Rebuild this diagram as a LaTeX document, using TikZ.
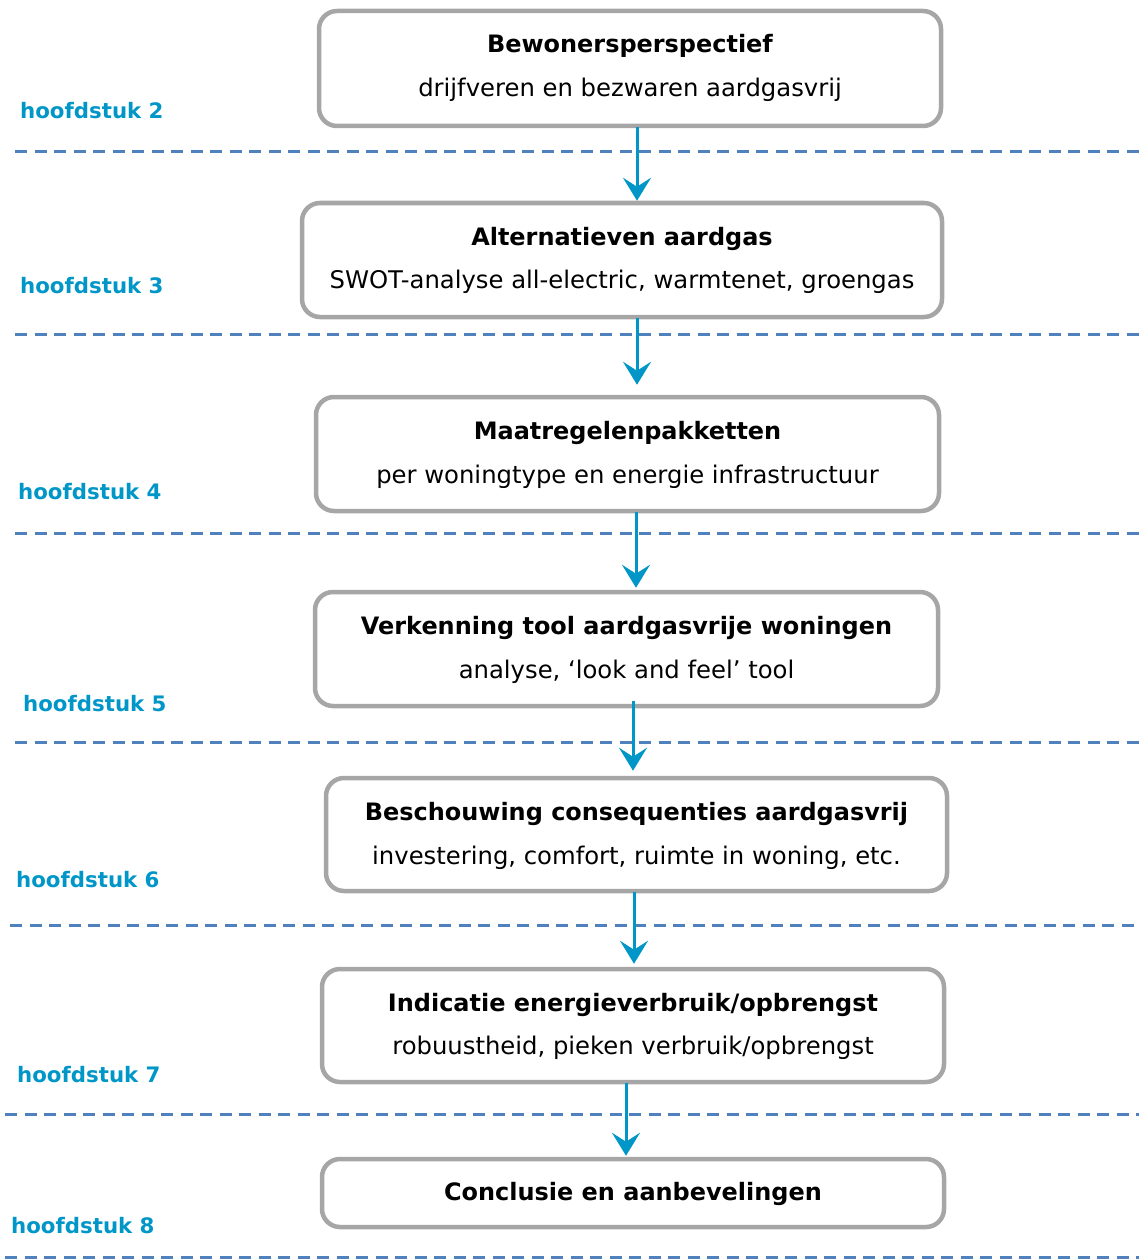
\documentclass[tikz,border=0pt]{standalone}
\usepackage{fontspec}
\setmainfont{DejaVu Sans}
\usetikzlibrary{arrows.meta}
\definecolor{boxgray}{RGB}{166,166,166}
\definecolor{hblue}{RGB}{0,150,200}
\definecolor{dashblue}{RGB}{79,129,189}
\begin{document}
\begin{tikzpicture}[x=1pt,y=-1pt,
  stepbox/.style={draw=boxgray,line width=4.5pt,rounded corners=18pt,fill=white},
  ttl/.style={anchor=base,font=\fontsize{23.95}{28}\selectfont\bfseries},
  sub/.style={anchor=base,font=\fontsize{24.3}{28}\selectfont},
  hlab/.style={anchor=base west,text=hblue,inner sep=0pt,font=\fontsize{21.3}{25}\selectfont\bfseries},
  sep/.style={draw=dashblue,line width=3pt,dash pattern=on 12pt off 7.5pt},
  arr/.style={draw=hblue,line width=3pt,-{Stealth[length=23pt,width=28pt,inset=9pt]}}]
\useasboundingbox (0,0) rectangle (1139,1260);
% separators
\coordinate (s1a) at (15,152);  \coordinate (s1b) at (1139,152);
\coordinate (s2a) at (15,334);  \coordinate (s2b) at (1139,334);
\coordinate (s3a) at (15,533);  \coordinate (s3b) at (1139,533);
\coordinate (s4a) at (15,742);  \coordinate (s4b) at (1139,742);
\coordinate (s5a) at (10,925);  \coordinate (s5b) at (1139,925);
\coordinate (s6a) at (5,1114);  \coordinate (s6b) at (1139,1114);
\coordinate (s7a) at (5,1257);  \coordinate (s7b) at (1139,1257);
\foreach \i in {1,...,7}{\draw[sep] (s\i a) -- (s\i b);}
% boxes
\node[stepbox,minimum width=622pt,minimum height=115pt] (b1) at (630,68.5) {};
\node[stepbox,minimum width=640pt,minimum height=114pt] (b2) at (622,260) {};
\node[stepbox,minimum width=623pt,minimum height=114pt] (b3) at (627.5,454) {};
\node[stepbox,minimum width=623pt,minimum height=114pt] (b4) at (626.5,649) {};
\node[stepbox,minimum width=621pt,minimum height=113pt] (b5) at (636.5,834.5) {};
\node[stepbox,minimum width=622pt,minimum height=113pt] (b6) at (633,1025.5) {};
\node[stepbox,minimum width=622pt,minimum height=68pt] (b7) at (633,1193) {};
% texts
\node[ttl] (t1) at (630,53) {Bewonersperspectief};
\node[sub] (u1) at (630,96.5) {drijfveren en bezwaren aardgasvrij};
\node[ttl] (t2) at (622,245) {Alternatieven aardgas};
\node[sub] (u2) at (622,288.5) {SWOT-analyse all-electric, warmtenet, groengas};
\node[ttl] (t3) at (627.5,439) {Maatregelenpakketten};
\node[sub] (u3) at (627.5,483.5) {per woningtype en energie infrastructuur};
\node[ttl] (t4) at (626.5,634) {Verkenning tool aardgasvrije woningen};
\node[sub] (u4) at (626.5,678.5) {analyse, ‘look and feel’ tool};
\node[ttl] (t5) at (636.5,820) {Beschouwing consequenties aardgasvrij};
\node[sub] (u5) at (636.5,864.5) {investering, comfort, ruimte in woning, etc.};
\node[ttl] (t6) at (633,1011) {Indicatie energieverbruik/opbrengst};
\node[sub] (u6) at (633,1054.5) {robuustheid, pieken verbruik/opbrengst};
\node[ttl] (t7) at (633,1200) {Conclusie en aanbevelingen};
% chapter labels
\node[hlab] (h2) at (20,119) {hoofdstuk 2};
\node[hlab] (h3) at (20,293) {hoofdstuk 3};
\node[hlab] (h4) at (18,499) {hoofdstuk 4};
\node[hlab] (h5) at (23,711) {hoofdstuk 5};
\node[hlab] (h6) at (16,887) {hoofdstuk 6};
\node[hlab] (h7) at (17,1082) {hoofdstuk 7};
\node[hlab] (h8) at (11,1233) {hoofdstuk 8};
% arrows
\coordinate (x1) at (637,0);
\coordinate (x2) at (637,0);
\coordinate (x3) at (636,0);
\coordinate (x4) at (633,0);
\coordinate (x5) at (634,0);
\coordinate (x6) at (626,0);
\draw[arr,shorten <=-1pt] (b1.south -| x1) -- (b2.north -| x1);
\draw[arr,shorten >=10pt,shorten <=-1pt] (b2.south -| x2) -- (b3.north -| x2);
\draw[arr,shorten >=2pt,shorten <=-1pt] (b3.south -| x3) -- (b4.north -| x3);
\draw[arr,shorten >=5pt,shorten <=-7pt] (b4.south -| x4) -- (b5.north -| x4);
\draw[arr,shorten >=3pt,shorten <=-1pt] (b5.south -| x5) -- (b6.north -| x5);
\draw[arr,shorten >=1pt,shorten <=-1pt] (b6.south -| x6) -- (b7.north -| x6);
\end{tikzpicture}
\end{document}
